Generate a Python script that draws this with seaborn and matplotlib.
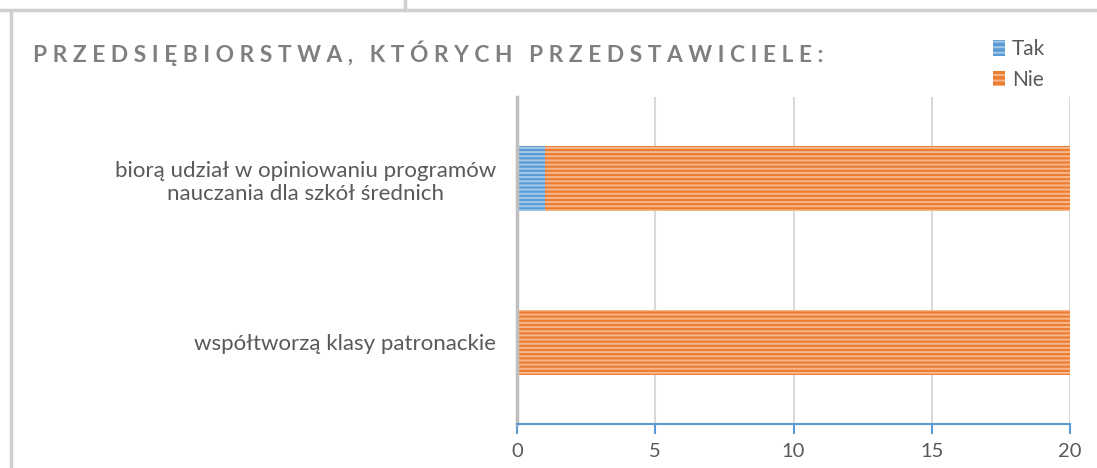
import numpy as np
import pandas as pd
import matplotlib
matplotlib.use("Agg")
import matplotlib.pyplot as plt
from matplotlib.lines import Line2D
from matplotlib.patches import Patch
import seaborn as sns

categories = [
    "biorą udział w opiniowaniu programów\nnauczania dla szkół średnich",
    "współtworzą klasy patronackie",
]
tak = [1, 0]
nie = [19, 20]
series_names = ["Tak", "Nie"]
title = "PRZEDSIĘBIORSTWA, KTÓRYCH PRZEDSTAWICIELE:"
xticks = [0, 5, 10, 15, 20]

BLUE = "#5B9BD5"
ORANGE = "#ED7D31"
TEXT = "#595959"

sns.set_theme(style="white")
plt.rcParams["font.family"] = ["Lato", "DejaVu Sans"]
plt.rcParams["hatch.linewidth"] = 1.4
plt.rcParams["xtick.bottom"] = True

df = pd.DataFrame({"cat": categories, "Tak": tak, "Nie": nie})
df["total"] = df["Tak"] + df["Nie"]

fig = plt.figure(figsize=(10.97, 4.68), dpi=100)
ax = fig.add_axes([0.4713, 0.094, 0.9754 - 0.4713, 0.7927 - 0.094])

# stacked: draw full length in orange, then the "Tak" part on top
sns.barplot(data=df, x="total", y="cat", orient="h", color=ORANGE,
            width=0.4, ax=ax, saturation=1)
sns.barplot(data=df, x="Tak", y="cat", orient="h", color=BLUE,
            width=0.4, ax=ax, saturation=1)
for p in ax.patches:
    p.set_hatch("----")
    p.set_edgecolor((1, 1, 1, 0.45))
    p.set_linewidth(0)

ax.set_xlim(0, 20)
ax.set_ylim(1.5, -0.5)
ax.set_xticks(xticks)
ax.set_xlabel("")
ax.set_ylabel("")
ax.xaxis.grid(True, color="#D9D9D9", linewidth=1.5)
ax.set_axisbelow(True)
for s in ["top", "right"]:
    ax.spines[s].set_visible(False)
ax.spines["left"].set_color("#BFBFBF")
ax.spines["left"].set_linewidth(2.5)
ax.spines["bottom"].set_color(BLUE)
ax.spines["bottom"].set_linewidth(1.5)
ax.tick_params(axis="x", bottom=True, colors=BLUE, length=7, width=1.5, direction="out",
               labelcolor=TEXT, labelsize=14.5, pad=7)
ax.tick_params(axis="y", left=False, length=0, labelcolor=TEXT, labelsize=16, pad=15)
for lbl in ax.get_yticklabels():
    lbl.set_multialignment("center")

# spaced-out title
spaced = " ".join(title)
fig.text(33 / 1097, 1 - 53 / 468, spaced, fontsize=16.4, fontweight="bold",
         color="#7F7F7F", va="center", ha="left")

handles = [Patch(facecolor=BLUE, hatch="---", edgecolor=(1, 1, 1, 0.45), linewidth=0),
           Patch(facecolor=ORANGE, hatch="---", edgecolor=(1, 1, 1, 0.45), linewidth=0)]
fig.legend(handles, series_names, loc="upper left", bbox_to_anchor=(985 / 1097, 1 - 31 / 468),
           frameon=False, fontsize=15, labelcolor=TEXT, handlelength=0.55,
           handleheight=0.75, handletextpad=0.35, labelspacing=0.5, borderaxespad=0)

# frame of the surrounding sheet
fig.add_artist(Line2D([0, 1], [1 - 10 / 468] * 2, color="#D0D0D0", linewidth=2.5,
                      transform=fig.transFigure))
fig.add_artist(Line2D([11 / 1097] * 2, [0, 1 - 10 / 468], color="#D0D0D0", linewidth=2.5,
                      transform=fig.transFigure))
fig.add_artist(Line2D([405 / 1097] * 2, [1 - 10 / 468, 1], color="#D0D0D0", linewidth=2.5,
                      transform=fig.transFigure))

fig.savefig("out.png", dpi=100, facecolor="white")
